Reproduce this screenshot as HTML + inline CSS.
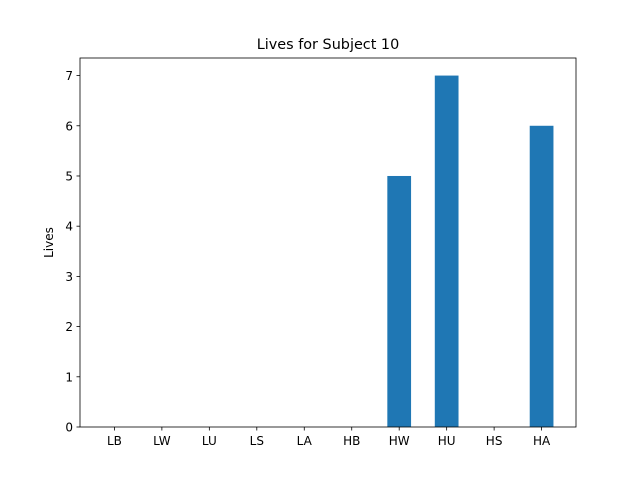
<!DOCTYPE html>
<html><head><meta charset="utf-8"><style>
body{margin:0;background:#fff;}
svg{display:block;font-family:"DejaVu Sans","Liberation Sans",sans-serif;}
</style></head><body>
<svg id="chart" width="640" height="480">
<rect width="640" height="480" fill="#fff"/>
<text x="328" y="49" text-anchor="middle" font-size="14.4">Lives for Subject 10</text>
<g id="bars"></g><g id="xticks"></g><g id="yticks"></g>
<rect x="80" y="58" width="496" height="369" fill="none" stroke="#000" stroke-width="0.8"/>
<text transform="translate(53,242.5) rotate(-90)" text-anchor="middle" font-size="12">Lives</text>
</svg>
<script>
const categories=["LB","LW","LU","LS","LA","HB","HW","HU","HS","HA"];
const values=[0,0,0,0,0,0,5,7,0,6];
const yTicks=[0,1,2,3,4,5,6,7];
const L=80,R=576,T=58,B=427;
const xmin=-0.725,xmax=9.725,ymax=7.35;
const sx=v=>L+(v-xmin)/(xmax-xmin)*(R-L);
const sy=v=>B-v/ymax*(B-T);
const NS="http://www.w3.org/2000/svg";
const bars=document.getElementById('bars'),xt=document.getElementById('xticks'),yt=document.getElementById('yticks');
function mk(t,a){const e=document.createElementNS(NS,t);for(const k in a)e.setAttribute(k,a[k]);return e;}
categories.forEach((c,i)=>{
  const x0=sx(i-0.25),x1=sx(i+0.25),y=sy(values[i]);
  const r=mk('rect',{x:x0,y:y,width:x1-x0,height:B-y,fill:'#1f77b4'});
  
  
  bars.appendChild(r);
  const l=mk('line',{x1:sx(i),x2:sx(i),y1:B,y2:B+3.5,stroke:'#000','stroke-width':0.8});
  xt.appendChild(l);
  const t=mk('text',{x:sx(i),y:B+18,'text-anchor':'middle','font-size':12});
  t.textContent=c;
  
  
  xt.appendChild(t);
});
yTicks.forEach(v=>{
  const l=mk('line',{x1:L-3.5,x2:L,y1:sy(v),y2:sy(v),stroke:'#000','stroke-width':0.8});
  yt.appendChild(l);
  const t=mk('text',{x:L-7,y:sy(v)+4.5,'text-anchor':'end','font-size':12});
  t.textContent=v;
  
  
  yt.appendChild(t);
});
</script>
</body></html>
